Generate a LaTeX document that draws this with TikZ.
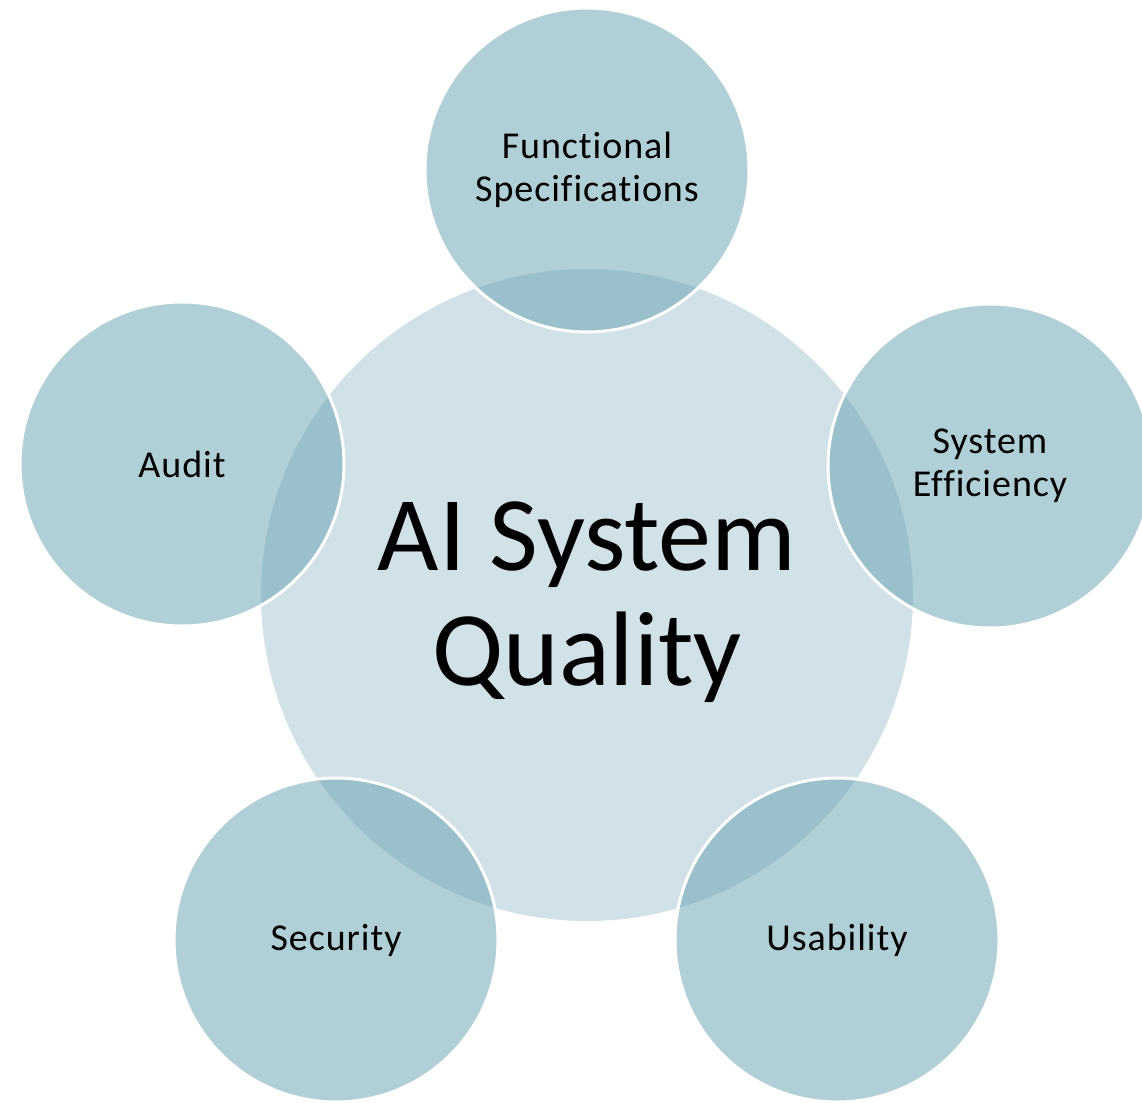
\documentclass[tikz,border=0pt]{standalone}
\usepackage{fontspec}
\setmainfont[Ligatures={NoCommon,NoRare}]{Carlito}
\definecolor{outerc}{RGB}{102,161,176}
\definecolor{centerc}{RGB}{208,225,232}
\begin{document}
\begin{tikzpicture}[x=1pt,y=-1pt,
  hub/.style={circle,inner sep=0pt,minimum size=652pt,fill=centerc},
  title/.style={align=center,inner sep=0pt,
    font=\fontsize{106}{115}\selectfont},
  petal/.style={circle,inner sep=0pt,minimum size=324pt,fill=outerc,fill opacity=0.51,
    text opacity=1,draw=white,draw opacity=1,line width=3pt,align=center,
    font=\fontsize{38}{43}\selectfont\addfontfeature{LetterSpace=2.5}}]
\useasboundingbox (0,0) rectangle (1142,1102);
\clip (0,0) rectangle (1142,1102);
\node[hub] (c) at (587,595) {};
\node[title] (t) at (587,602) {AI System\\Quality};
\node[petal] (f) at (587,170) {Functional\\Specifications};
\node[petal] (e) at (990,466) {System\\Efficiency};
\node[petal] (u) at (837,940) {Usability};
\node[petal] (s) at (336,940) {Security};
\node[petal] (a) at (182,464) {Audit};
\end{tikzpicture}
\end{document}
